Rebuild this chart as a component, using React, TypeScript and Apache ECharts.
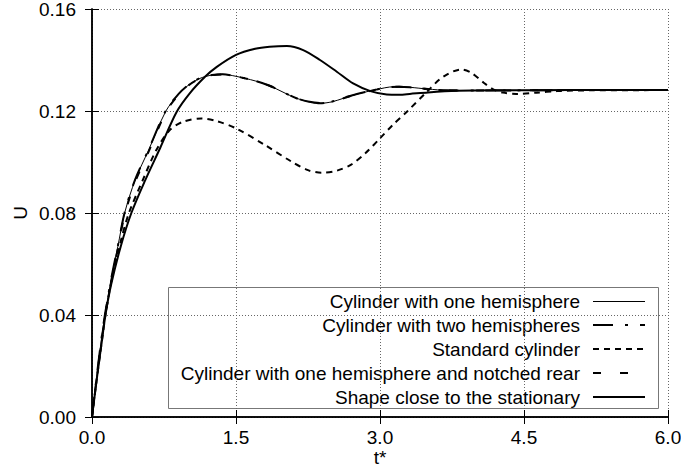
import React, { useEffect, useRef } from "react";
import * as echarts from "echarts";

const seriesNames = [
  "Cylinder with one hemisphere",
  "Cylinder with two hemispheres",
  "Standard cylinder",
  "Cylinder with one hemisphere and notched rear",
  "Shape close to the stationary",
];

const xTicks = [0, 1.5, 3.0, 4.5, 6.0];
const yTicks = [0, 0.04, 0.08, 0.12, 0.16];

const tOne = [0, 0.05, 0.1, 0.135, 0.2, 0.27, 0.34, 0.45, 0.59, 0.77, 0.9, 1.0, 1.125, 1.25, 1.36, 1.5, 1.7, 1.85, 2.0, 2.13, 2.25, 2.375, 2.5, 2.62, 2.75, 2.9, 3.0, 3.1, 3.2, 3.31, 3.5, 3.7, 4.0, 4.5, 5.0, 6.0];
const uOne = [0, 0.016, 0.031, 0.04, 0.054, 0.067, 0.08, 0.093, 0.1047, 0.12, 0.1265, 0.13, 0.1328, 0.1341, 0.1344, 0.1336, 0.1318, 0.1299, 0.1272, 0.125, 0.1237, 0.123, 0.1236, 0.125, 0.1265, 0.1279, 0.1287, 0.1294, 0.1295, 0.1293, 0.1286, 0.1281, 0.128, 0.1281, 0.1282, 0.1282];

const tTwo = [0, 0.05, 0.1, 0.135, 0.2, 0.27, 0.34, 0.45, 0.59, 0.77, 0.9, 1.0, 1.125, 1.25, 1.36, 1.5, 1.7, 1.85, 2.0, 2.13, 2.25, 2.375, 2.5, 2.62, 2.75, 2.9, 3.0, 3.1, 3.2, 3.31, 3.5, 3.7, 4.0, 4.5, 5.0, 6.0];
const uTwo = [0, 0.0162, 0.0312, 0.0402, 0.0542, 0.0672, 0.0802, 0.0932, 0.1049, 0.1202, 0.1266, 0.1301, 0.1329, 0.1341, 0.1344, 0.1336, 0.1318, 0.1299, 0.1272, 0.125, 0.1237, 0.1231, 0.1237, 0.1251, 0.1266, 0.1279, 0.1287, 0.1294, 0.1295, 0.1293, 0.1286, 0.1281, 0.128, 0.1281, 0.1282, 0.1282];

const tStd = [0, 0.05, 0.1, 0.14, 0.2, 0.3, 0.385, 0.53, 0.67, 0.81, 0.95, 1.14, 1.3, 1.5, 1.8, 2.08, 2.25, 2.39, 2.55, 2.7, 2.85, 3.0, 3.14, 3.28, 3.49, 3.66, 3.85, 3.95, 4.08, 4.18, 4.28, 4.42, 4.63, 4.84, 5.2, 6.0];
const uStd = [0, 0.015, 0.029, 0.04, 0.053, 0.069, 0.08, 0.093, 0.1047, 0.1125, 0.1158, 0.1171, 0.116, 0.1132, 0.1067, 0.1001, 0.0968, 0.0958, 0.0966, 0.099, 0.1035, 0.1093, 0.1148, 0.1197, 0.1276, 0.1335, 0.1363, 0.135, 0.1311, 0.1285, 0.1272, 0.1267, 0.1272, 0.1278, 0.1281, 0.1282];

const tNotch = [0, 0.05, 0.1, 0.135, 0.2, 0.27, 0.34, 0.45, 0.59, 0.77, 0.9, 1.0, 1.125, 1.25, 1.36, 1.5, 1.7, 1.85, 2.0, 2.13, 2.25, 2.375, 2.5, 2.62, 2.75, 2.9, 3.0, 3.1, 3.2, 3.31, 3.5, 3.7, 4.0, 4.5, 5.0, 6.0];
const uNotch = [0, 0.0155, 0.0302, 0.0392, 0.0532, 0.0662, 0.0792, 0.0922, 0.1041, 0.1196, 0.1263, 0.1299, 0.1327, 0.134, 0.1343, 0.1336, 0.1318, 0.1299, 0.1272, 0.125, 0.1237, 0.123, 0.1236, 0.125, 0.1265, 0.1279, 0.1287, 0.1293, 0.1295, 0.1293, 0.1286, 0.1281, 0.128, 0.1281, 0.1282, 0.1282];

const tStat = [0, 0.05, 0.1, 0.14, 0.2, 0.3, 0.41, 0.55, 0.71, 0.88, 1.02, 1.18, 1.3, 1.5, 1.7, 1.85, 2.03, 2.2, 2.375, 2.55, 2.72, 2.9, 3.07, 3.2, 3.31, 3.5, 3.8, 4.2, 5.0, 6.0];
const uStat = [0, 0.015, 0.029, 0.04, 0.052, 0.067, 0.08, 0.0925, 0.1055, 0.1195, 0.127, 0.1335, 0.1373, 0.142, 0.1444, 0.1452, 0.1455, 0.1439, 0.14, 0.1354, 0.1308, 0.1278, 0.1265, 0.1264, 0.1267, 0.1273, 0.1279, 0.1281, 0.1282, 0.1282];

const lineWidths = [1, 2, 2, 2, 2];
const lineDashes: any[] = [null, [20, 12, 3, 12], [6, 5], [8, 19], null];

const zip = (t: number[], u: number[]) => t.map((v, i) => [v, u[i]]);

const FONT = "'Liberation Sans', Arial, Helvetica, sans-serif";
const FS = 19;

export default function App() {
  const ref = useRef<HTMLDivElement>(null);
  useEffect(() => {
    if (!ref.current) return;
    const chart = echarts.init(ref.current, null, { renderer: "svg" });
    const axisLine = { show: true, lineStyle: { color: "#000", width: 1.5 } };
    const axisTick = { show: true, inside: true, length: 7, lineStyle: { color: "#000", width: 1 } };
    const splitLine = { show: true, lineStyle: { color: "#666", width: 1, type: [1, 2] } };
    const datasets = [
      zip(tOne, uOne),
      zip(tTwo, uTwo),
      zip(tStd, uStd),
      zip(tNotch, uNotch),
      zip(tStat, uStat),
    ];
    const zs = [5, 4, 3, 2, 6];
    const series = seriesNames.map((name, i) => ({
      name,
      type: "line",
      data: datasets[i],
      xAxisIndex: 0,
      yAxisIndex: 0,
      showSymbol: false,
      symbol: "none",
      smooth: 0.3,
      z: zs[i],
      lineStyle: { color: "#000", width: lineWidths[i], type: lineDashes[i] || "solid" },
      itemStyle: { color: "#000" },
    }));

    // legend box drawn as graphic
    const legLeft = 168.5;
    const legTop = 287.5;
    const legW = 490;
    const legH = 121;
    const rowY0 = 301;
    const rowStep = 24;
    const textRight = 580;
    const sampleX1 = 593;
    const sampleX2 = 645;
    const legendChildren: any[] = [
      {
        type: "rect",
        shape: { x: legLeft, y: legTop, width: legW, height: legH },
        style: { fill: "#fff", stroke: "#777", lineWidth: 1 },
      },
    ];
    seriesNames.forEach((name, i) => {
      const y = rowY0 + i * rowStep;
      const ly = lineWidths[i] === 1 ? y + 0.5 : y;
      legendChildren.push({
        type: "text",
        x: textRight,
        y,
        style: {
          text: name,
          fill: "#000",
          font: `${FS}px ${FONT}`,
          align: "right",
          verticalAlign: "middle",
        },
      });
      legendChildren.push({
        type: "line",
        shape: { x1: sampleX1, y1: ly, x2: sampleX2, y2: ly },
        style: {
          stroke: "#000",
          lineWidth: lineWidths[i],
          lineDash: lineDashes[i] || null,
        },
      });
    });

    chart.setOption({
      animation: false,
      backgroundColor: "#fff",
      textStyle: { fontFamily: FONT },
      grid: { left: 92, right: 13, top: 9, bottom: 53, containLabel: false, outerBoundsMode: "none" },
      graphic: [{ type: "group", z: 100, children: legendChildren }],
      xAxis: [
        {
          type: "value",
          min: 0,
          max: 6,
          interval: 1.5,
          name: "t*",
          nameLocation: "middle",
          nameGap: 31,
          nameMoveOverlap: false,
          nameTextStyle: { fontSize: FS, color: "#000", fontFamily: FONT },
          axisLine,
          axisTick,
          splitLine,
          axisLabel: {
            fontSize: FS,
            color: "#000",
            fontFamily: FONT,
            margin: 11,
            formatter: (v: number) => (xTicks.includes(v) ? v.toFixed(1) : ""),
          },
        },
        {
          type: "value",
          position: "top",
          min: 0,
          max: 6,
          interval: 1.5,
          axisLine,
          axisTick,
          splitLine: { show: false },
          axisLabel: { show: false },
        },
      ],
      yAxis: [
        {
          type: "value",
          min: 0,
          max: 0.16,
          interval: 0.04,
          name: "U",
          nameLocation: "middle",
          nameGap: 62,
          nameMoveOverlap: false,
          nameTextStyle: { fontSize: FS, color: "#000", fontFamily: FONT },
          axisLine,
          axisTick,
          splitLine,
          axisLabel: {
            fontSize: FS,
            color: "#000",
            fontFamily: FONT,
            margin: 16,
            formatter: (v: number) => {
              const hit = yTicks.find((y) => Math.abs(y - v) < 1e-9);
              return hit === undefined ? "" : hit.toFixed(2);
            },
          },
        },
        {
          type: "value",
          position: "right",
          min: 0,
          max: 0.16,
          interval: 0.04,
          axisLine,
          axisTick,
          splitLine: { show: false },
          axisLabel: { show: false },
        },
      ],
      series,
    });
    return () => chart.dispose();
  }, []);
  return <div ref={ref} style={{ width: 681, height: 470, position: "absolute", left: 0, top: 0 }} />;
}
